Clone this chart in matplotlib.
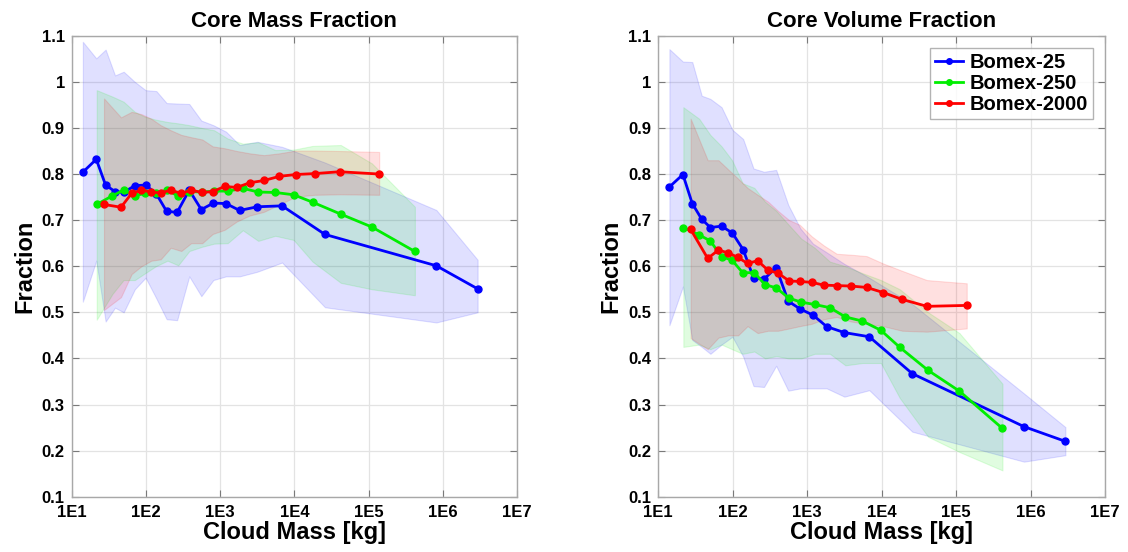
import numpy as np
import matplotlib
matplotlib.use("Agg")
import matplotlib.pyplot as plt
from matplotlib.ticker import FixedLocator, FixedFormatter, NullLocator

plt.rcParams['font.family'] = ['Liberation Sans Narrow', 'Liberation Sans', 'DejaVu Sans']
plt.rcParams['font.weight'] = 'bold'

labels = ["Bomex-25", "Bomex-250", "Bomex-2000"]
colors = ["#0000ff", "#00ee00", "#ff0000"]

# cloud mass bins [kg]
mass_25 = [14.1, 21.4, 28.6, 38.3, 50.1, 70.8, 98.9, 138, 190, 263, 383, 557, 809,
           1197, 1828, 3162, 6823, 25800, 817000, 2940000]
mass_250 = [21.7, 35.4, 49.9, 70.8, 97.9, 136, 195, 272, 385, 564, 830, 1262, 2018,
            3258, 5521, 9772, 17540, 42170, 110900, 419800]
mass_2000 = [27.2, 46.1, 64.1, 86.9, 118, 158, 216, 299, 406, 573, 793, 1148, 1675,
             2495, 3882, 6281, 10470, 18880, 40550, 139000]

# core mass fraction
cmf_25 = [0.804, 0.832, 0.776, 0.762, 0.760, 0.775, 0.776, 0.757, 0.719, 0.717, 0.765,
          0.723, 0.737, 0.736, 0.721, 0.729, 0.731, 0.669, 0.601, 0.551]
cmf_25_hi = [1.087, 1.051, 1.070, 1.014, 1.022, 1.0, 0.982, 0.980, 0.954, 0.953, 0.952,
             0.916, 0.906, 0.892, 0.863, 0.870, 0.859, 0.825, 0.722, 0.614]
cmf_25_lo = [0.523, 0.612, 0.480, 0.510, 0.500, 0.550, 0.575, 0.530, 0.485, 0.483, 0.578,
             0.535, 0.570, 0.578, 0.578, 0.588, 0.608, 0.511, 0.478, 0.500]

cmf_250 = [0.734, 0.753, 0.765, 0.753, 0.758, 0.758, 0.765, 0.752, 0.762, 0.761, 0.763,
           0.763, 0.769, 0.761, 0.760, 0.755, 0.739, 0.713, 0.685, 0.632]
cmf_250_hi = [0.982, 0.968, 0.957, 0.935, 0.924, 0.918, 0.913, 0.910, 0.906, 0.900, 0.895,
              0.877, 0.866, 0.869, 0.852, 0.853, 0.861, 0.863, 0.823, 0.729]
cmf_250_lo = [0.484, 0.540, 0.570, 0.570, 0.585, 0.600, 0.612, 0.602, 0.633, 0.642, 0.649,
              0.650, 0.678, 0.655, 0.666, 0.657, 0.610, 0.564, 0.550, 0.537]

cmf_2000 = [0.734, 0.728, 0.758, 0.765, 0.761, 0.759, 0.765, 0.758, 0.765, 0.760, 0.762,
            0.773, 0.771, 0.781, 0.786, 0.795, 0.799, 0.801, 0.805, 0.800]
cmf_2000_hi = [0.964, 0.923, 0.935, 0.930, 0.920, 0.906, 0.895, 0.885, 0.880, 0.875, 0.860,
               0.856, 0.850, 0.845, 0.841, 0.845, 0.851, 0.851, 0.850, 0.848]
cmf_2000_lo = [0.505, 0.533, 0.583, 0.600, 0.612, 0.615, 0.640, 0.633, 0.650, 0.650, 0.670,
               0.679, 0.697, 0.710, 0.718, 0.734, 0.751, 0.755, 0.756, 0.755]

# core volume fraction
cvf_25 = [0.772, 0.799, 0.736, 0.702, 0.684, 0.687, 0.672, 0.636, 0.575, 0.572, 0.597,
          0.524, 0.507, 0.494, 0.469, 0.456, 0.447, 0.367, 0.252, 0.220]
cvf_25_hi = [1.071, 1.044, 1.043, 0.970, 0.963, 0.945, 0.896, 0.876, 0.812, 0.805, 0.809,
             0.733, 0.682, 0.649, 0.630, 0.605, 0.575, 0.518, 0.324, 0.251]
cvf_25_lo = [0.472, 0.556, 0.440, 0.425, 0.410, 0.430, 0.447, 0.404, 0.340, 0.338, 0.384,
             0.330, 0.335, 0.335, 0.335, 0.317, 0.331, 0.241, 0.176, 0.190]

cvf_250 = [0.684, 0.668, 0.655, 0.621, 0.613, 0.586, 0.586, 0.560, 0.553, 0.531, 0.522,
           0.517, 0.510, 0.490, 0.481, 0.461, 0.424, 0.374, 0.329, 0.248]
cvf_250_hi = [0.945, 0.920, 0.885, 0.860, 0.830, 0.780, 0.770, 0.740, 0.720, 0.690, 0.660,
              0.640, 0.610, 0.600, 0.585, 0.570, 0.550, 0.500, 0.455, 0.345]
cvf_250_lo = [0.425, 0.430, 0.420, 0.430, 0.420, 0.410, 0.415, 0.400, 0.405, 0.400, 0.400,
              0.410, 0.410, 0.385, 0.390, 0.390, 0.314, 0.230, 0.197, 0.157]

cvf_2000 = [0.680, 0.617, 0.635, 0.629, 0.619, 0.606, 0.612, 0.591, 0.585, 0.568, 0.567,
            0.565, 0.559, 0.558, 0.557, 0.554, 0.543, 0.528, 0.513, 0.515]
cvf_2000_hi = [0.920, 0.830, 0.830, 0.810, 0.790, 0.770, 0.755, 0.740, 0.720, 0.700, 0.690,
               0.665, 0.645, 0.627, 0.625, 0.622, 0.606, 0.590, 0.570, 0.563]
cvf_2000_lo = [0.444, 0.420, 0.445, 0.450, 0.450, 0.470, 0.455, 0.460, 0.460, 0.465, 0.470,
               0.475, 0.485, 0.490, 0.480, 0.475, 0.470, 0.460, 0.458, 0.465]

xticks = [1e1, 1e2, 1e3, 1e4, 1e5, 1e6, 1e7]
xticklabels = ["1E1", "1E2", "1E3", "1E4", "1E5", "1E6", "1E7"]
yticks = [0.1, 0.2, 0.3, 0.4, 0.5, 0.6, 0.7, 0.8, 0.9, 1.0, 1.1]
yticklabels = ["0.1", "0.2", "0.3", "0.4", "0.5", "0.6", "0.7", "0.8", "0.9", "1", "1.1"]

panels = [
    ("Core Mass Fraction",
     [(mass_25, cmf_25, cmf_25_lo, cmf_25_hi),
      (mass_250, cmf_250, cmf_250_lo, cmf_250_hi),
      (mass_2000, cmf_2000, cmf_2000_lo, cmf_2000_hi)]),
    ("Core Volume Fraction",
     [(mass_25, cvf_25, cvf_25_lo, cvf_25_hi),
      (mass_250, cvf_250, cvf_250_lo, cvf_250_hi),
      (mass_2000, cvf_2000, cvf_2000_lo, cvf_2000_hi)]),
]

fig = plt.figure(figsize=(11.28, 5.52), dpi=100)
rects = [[0.0636, 0.1002, 0.3948, 0.835], [0.5836, 0.1002, 0.396, 0.835]]

for k, (title, series) in enumerate(panels):
    ax = fig.add_axes(rects[k])
    for (m, y, lo, hi), c in zip(series, colors):
        ax.fill_between(m, lo, hi, facecolor=c, alpha=0.12, edgecolor=c, linewidth=0.8)
    for (m, y, lo, hi), c, lab in zip(series, colors, labels):
        ax.plot(m, y, '-', color=c, lw=2, marker='o', ms=5, label=lab)
    ax.set_xscale('log')
    ax.set_xlim(1e1, 1e7)
    ax.set_ylim(0.1, 1.1)
    ax.xaxis.set_major_locator(FixedLocator(xticks))
    ax.xaxis.set_major_formatter(FixedFormatter(xticklabels))
    ax.xaxis.set_minor_locator(NullLocator())
    ax.set_yticks(yticks)
    ax.set_yticklabels(yticklabels)
    ax.grid(True, color='#e3e3e3', lw=0.9)
    ax.set_axisbelow(True)
    ax.tick_params(direction='in', length=5, width=0.8, color='#7a7a7a',
                   top=True, right=True, labelsize=12)
    ax.tick_params(axis='x', pad=6)
    ax.tick_params(axis='y', pad=5)
    for lab in ax.get_xticklabels() + ax.get_yticklabels():
        lab.set_fontweight('bold')
    for sp in ax.spines.values():
        sp.set_color('#a8a8a8')
        sp.set_linewidth(1.0)
    ax.set_title(title, fontsize=16, fontweight='bold', pad=6)
    ax.set_xlabel("Cloud Mass [kg]", fontsize=17, fontweight='bold', labelpad=1)
    ax.set_ylabel("Fraction", fontsize=17, fontweight='bold', labelpad=4)
    if k == 1:
        leg = ax.legend(loc='upper right', fontsize=14.5, frameon=True, fancybox=False,
                        handlelength=1.4, handletextpad=0.3, borderpad=0.25,
                        labelspacing=0.1, borderaxespad=0.6)
        leg.get_frame().set_edgecolor('#a0a0a0')
        leg.get_frame().set_linewidth(1.0)
        for t in leg.get_texts():
            t.set_fontweight('bold')
        for h in leg.get_lines():
            h.set_markersize(4)

fig.savefig("out.png", dpi=100)
